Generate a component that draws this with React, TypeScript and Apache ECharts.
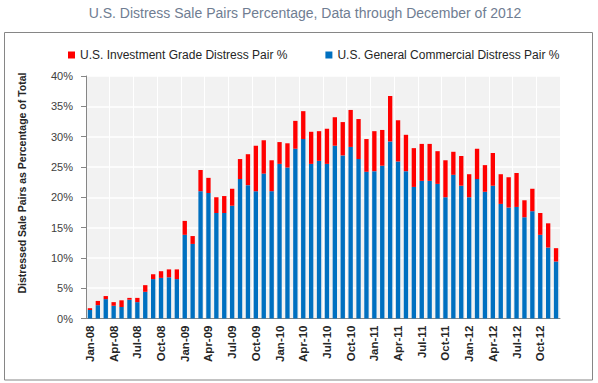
import React, { useEffect, useRef } from "react";
import * as echarts from "echarts";

const categories = [
  "Jan-08","Feb-08","Mar-08","Apr-08","May-08","Jun-08","Jul-08","Aug-08","Sep-08","Oct-08","Nov-08","Dec-08",
  "Jan-09","Feb-09","Mar-09","Apr-09","May-09","Jun-09","Jul-09","Aug-09","Sep-09","Oct-09","Nov-09","Dec-09",
  "Jan-10","Feb-10","Mar-10","Apr-10","May-10","Jun-10","Jul-10","Aug-10","Sep-10","Oct-10","Nov-10","Dec-10",
  "Jan-11","Feb-11","Mar-11","Apr-11","May-11","Jun-11","Jul-11","Aug-11","Sep-11","Oct-11","Nov-11","Dec-11",
  "Jan-12","Feb-12","Mar-12","Apr-12","May-12","Jun-12","Jul-12","Aug-12","Sep-12","Oct-12","Nov-12","Dec-12",
];

// U.S. General Commercial Distress Pair % (bottom segment)
const generalCommercial = [
  1.4, 2.2, 3.2, 2.1, 1.9, 3.1, 2.7, 4.4, 6.5, 6.7, 6.8, 6.5,
  13.8, 12.3, 21.0, 20.7, 17.4, 17.4, 18.6, 23.0, 22.0, 21.0, 23.9, 21.0,
  25.5, 24.9, 28.0, 29.6, 25.5, 26.0, 25.5, 28.5, 26.9, 28.3, 26.3, 24.2,
  24.3, 25.2, 29.2, 25.9, 24.3, 21.7, 22.7, 22.7, 22.2, 20.0, 23.7, 21.9,
  20.0, 23.0, 20.9, 21.9, 18.9, 18.3, 18.4, 16.7, 17.7, 13.8, 11.7, 9.4,
];

// U.S. Investment Grade Distress Pair % (top segment)
const investmentGrade = [
  0.3, 0.7, 0.5, 0.6, 1.1, 0.3, 0.7, 1.1, 0.8, 1.1, 1.3, 1.6,
  2.3, 1.3, 3.5, 2.5, 2.6, 2.8, 2.8, 3.3, 5.1, 7.5, 5.5, 5.1,
  3.6, 4.0, 4.6, 4.6, 5.3, 4.9, 5.8, 4.7, 5.5, 6.1, 6.6, 5.4,
  6.6, 5.9, 7.5, 6.8, 6.0, 6.4, 6.1, 6.1, 5.4, 6.1, 3.8, 4.9,
  3.8, 5.0, 4.4, 5.4, 4.9, 5.0, 5.6, 2.8, 3.7, 3.6, 4.0, 2.2,
];

const yTicks = { min: 0, max: 40, interval: 5 };

const titleText = "U.S. Distress Sale Pairs Percentage, Data through December of 2012";
const yAxisTitle = "Distressed Sale Pairs as Percentage of Total";
const nameIG = "U.S. Investment Grade Distress Pair %";
const nameGC = "U.S. General Commercial Distress Pair %";

export default function App() {
  const ref = useRef<HTMLDivElement>(null);
  useEffect(() => {
    document.body.style.margin = "0";
    if (!ref.current) return;
    const chart = echarts.init(ref.current, undefined, { renderer: "svg" });
    const font = "'Liberation Sans', Arial, sans-serif";
    chart.setOption({
      animation: false,
      textStyle: { fontFamily: font },
      graphic: [
        {
          type: "rect",
          shape: { x: 4.5, y: 32.5, width: 588, height: 347.5 },
          style: { fill: "none", stroke: "#868686", lineWidth: 1 },
          z: -1,
        },
        {
          type: "text",
          x: 305,
          y: 13,
          style: {
            text: titleText,
            fill: "#6f7d92",
            fontSize: 14,
            fontFamily: font,
            textAlign: "center",
            textVerticalAlign: "middle",
          },
        },
        {
          type: "text",
          x: 22,
          y: 183,
          rotation: Math.PI / 2,
          style: {
            text: yAxisTitle,
            fill: "#262626",
            fontSize: 10.5,
            fontWeight: "bold",
            fontFamily: font,
            textAlign: "center",
            textVerticalAlign: "middle",
          },
        },
      ],
      legend: {
        data: [nameIG, nameGC],
        left: 63,
        top: 44,
        itemWidth: 7,
        itemHeight: 7,
        itemGap: 38,
        icon: "rect",
        textStyle: { fontSize: 12, color: "#262626", fontFamily: font },
      },
      grid: {
        left: 86,
        right: 38,
        top: 76,
        bottom: 64.5,
        show: true,
        backgroundColor: "#f2f2f2",
        borderWidth: 0,
      },
      xAxis: {
        type: "category",
        data: categories,
        boundaryGap: true,
        axisLine: { lineStyle: { color: "#868686", width: 1 } },
        axisTick: { interval: 2, length: 4, lineStyle: { color: "#868686" } },
        axisLabel: {
          interval: 2,
          rotate: 90,
          fontSize: 11.5,
          fontWeight: "bold",
          color: "#262626",
          margin: 7,
          fontFamily: font,
        },
        splitLine: { show: true, interval: 2, lineStyle: { color: "#ffffff", width: 1 } },
      },
      yAxis: {
        type: "value",
        min: yTicks.min,
        max: yTicks.max,
        interval: yTicks.interval,
        axisLine: { show: true, lineStyle: { color: "#868686", width: 1 } },
        axisTick: { show: true, length: 5, lineStyle: { color: "#868686" } },
        axisLabel: {
          formatter: "{value}%",
          fontSize: 11,
          color: "#404040",
          margin: 13,
          fontFamily: font,
        },
        splitLine: { show: true, lineStyle: { color: "#ffffff", width: 1.5 } },
      },
      series: [
        {
          name: nameGC,
          type: "bar",
          stack: "total",
          data: generalCommercial,
          barWidth: "55%",
          itemStyle: { color: "#0070c0" },
        },
        {
          name: nameIG,
          type: "bar",
          stack: "total",
          data: investmentGrade,
          barWidth: "55%",
          itemStyle: { color: "#ff0000" },
        },
      ],
    });
    return () => chart.dispose();
  }, []);
  return <div ref={ref} style={{ width: 598, height: 383 }} />;
}
